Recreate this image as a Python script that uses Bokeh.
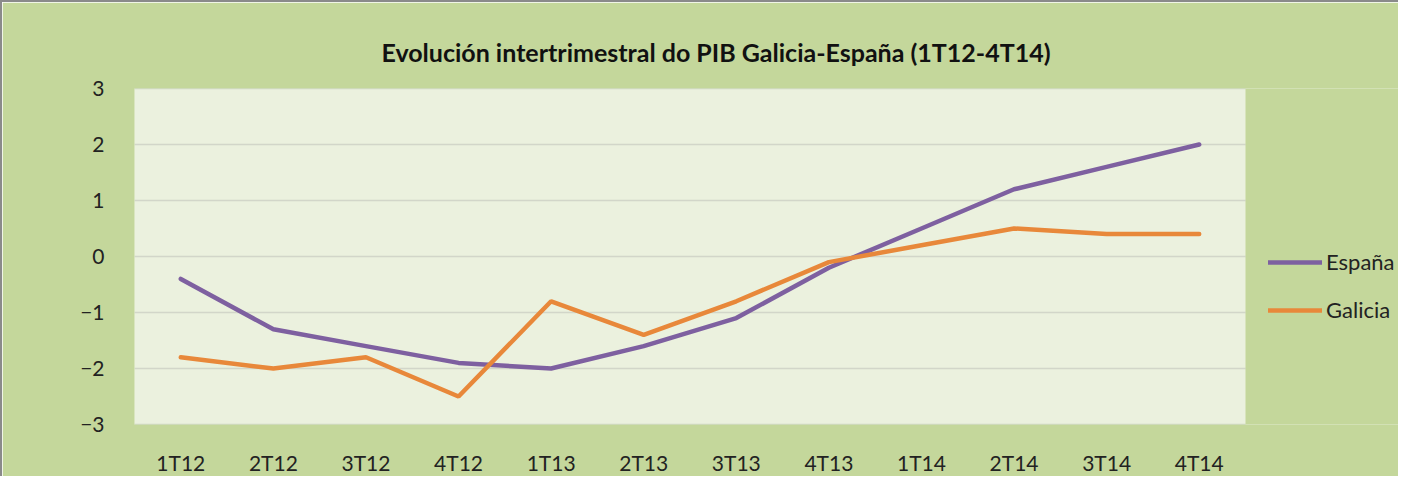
from bokeh.plotting import figure
from bokeh.models import (Legend, LegendItem, FixedTicker, ColumnDataSource,
                          Range1d, BoxAnnotation)
from bokeh.embed import file_html
from bokeh.resources import INLINE

categories = ["1T12", "2T12", "3T12", "4T12", "1T13", "2T13", "3T13", "4T13",
              "1T14", "2T14", "3T14", "4T14"]
espana = [-0.4, -1.3, -1.6, -1.9, -2.0, -1.6, -1.1, -0.2, 0.5, 1.2, 1.6, 2.0]
galicia = [-1.8, -2.0, -1.8, -2.5, -0.8, -1.4, -0.8, -0.1, 0.2, 0.5, 0.4, 0.4]
y_ticks = [-3, -2, -1, 0, 1, 2, 3]

FONT = "Lato"
BG = "#c4d79b"
PLOT_BG = "#ebf1de"

# layout (pixels)
W, H = 1398, 476
LEFT, TOP, BOTTOM = 132, 86, 54
PLOT_W = 1111  # width of the light plotting area
n = len(categories)
band = PLOT_W / n
frame_w = W - LEFT
x_end = -0.5 + frame_w / band

xs = list(range(n))
src = ColumnDataSource(dict(x=xs, cat=categories, esp=espana, gal=galicia))

p = figure(x_range=Range1d(-0.5, x_end), y_range=Range1d(y_ticks[0], y_ticks[-1]),
           width=W, height=H, output_backend="svg", toolbar_location=None,
           min_border_left=LEFT, min_border_right=0,
           min_border_top=TOP, min_border_bottom=BOTTOM)
p.styles = {"border-top": "2px solid #8a8a8a", "border-left": "2px solid #8a8a8a"}
p.background_fill_color = BG
p.border_fill_color = BG
p.outline_line_color = None
p.grid.visible = False

p.title.text = "Evolución intertrimestral do PIB Galicia-España (1T12-4T14)"
p.title.text_font = FONT
p.title.text_font_size = "25px"
p.title.text_font_style = "bold"
p.title.text_color = "#111111"
p.title.align = "left"
p.title.offset = 247
p.title.standoff = 43

# light plot area
p.add_layout(BoxAnnotation(left=-0.5, right=n - 0.5, fill_color=PLOT_BG,
                           fill_alpha=1, line_color=None, level="underlay"))

# horizontal gridlines limited to the plot area (zero-height boxes)
for t in y_ticks:
    p.add_layout(BoxAnnotation(left=-0.5, right=n - 0.5, bottom=t, top=t,
                               fill_alpha=0, line_color="#999999",
                               line_width=1.3, level="underlay"))

r1 = p.line("x", "esp", source=src, line_color="#7e60a0", line_width=4.5,
            line_cap="round")
r2 = p.line("x", "gal", source=src, line_color="#e8883a", line_width=4.5,
            line_cap="round")

p.yaxis.ticker = FixedTicker(ticks=y_ticks)
p.xaxis.ticker = FixedTicker(ticks=xs)
p.xaxis.major_label_overrides = {i: c for i, c in zip(xs, categories)}
for ax in (p.xaxis[0], p.yaxis[0]):
    ax.axis_line_color = None
    ax.major_tick_line_color = None
    ax.minor_tick_line_color = None
    ax.major_label_text_font = FONT
    ax.major_label_text_font_size = "21px"
    ax.major_label_text_color = "#222222"
p.yaxis.major_label_standoff = 24
p.xaxis.major_label_standoff = 19

legend = Legend(items=[LegendItem(label="España", renderers=[r1]),
                       LegendItem(label="Galicia", renderers=[r2])],
                location=(1134, 101))
legend.background_fill_alpha = 0
legend.border_line_color = None
legend.padding = 0
legend.margin = 0
legend.spacing = 21
legend.glyph_width = 54
legend.glyph_height = 20
legend.label_height = 20
legend.label_standoff = 4
legend.label_text_font = FONT
legend.label_text_font_size = "22px"
legend.label_text_color = "#222222"
p.add_layout(legend, "center")

open("out.html", "w").write(file_html(p, INLINE))
